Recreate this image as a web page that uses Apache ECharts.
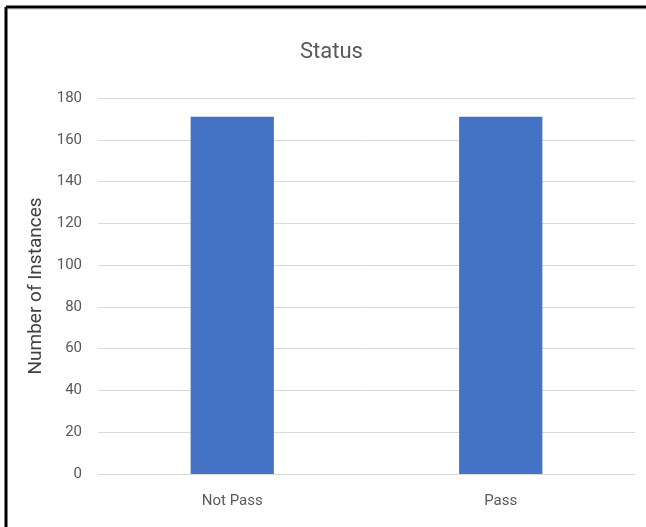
<!DOCTYPE html>
<html>
<head>
<meta charset="utf-8">
<script src="https://cdn.jsdelivr.net/npm/echarts@6/dist/echarts.min.js"></script>
<style>
  html, body { margin: 0; padding: 0; background: #fff; }
  #chart { width: 646px; height: 527px; }
</style>
</head>
<body>
<div id="chart"></div>
<script>
const categories = ['Not Pass', 'Pass'];
const counts = [171, 171];
const yTicks = [0, 20, 40, 60, 80, 100, 120, 140, 160, 180];

const font = '"Liberation Sans Narrow", "Roboto", sans-serif';
const chart = echarts.init(document.getElementById('chart'));

const option = {
  backgroundColor: '#ffffff',
  animation: false,
  title: {
    text: 'Status',
    left: 295,
    top: 36,
    textStyle: { fontFamily: font, fontSize: 22, fontWeight: 'normal', color: '#595959' }
  },
  grid: { left: 98, right: 11, top: 98, bottom: 53 },
  graphic: [
    { type: 'line', shape: { x1: 6, y1: 7, x2: 6, y2: 527 }, style: { stroke: '#000', lineWidth: 3 } },
    { type: 'line', shape: { x1: 6, y1: 7, x2: 646, y2: 7 }, style: { stroke: '#000', lineWidth: 3 } },
    { type: 'line', shape: { x1: 8, y1: 9.5, x2: 646, y2: 9.5 }, style: { stroke: '#e0e0e0', lineWidth: 1 } }
  ],
  xAxis: {
    type: 'category',
    data: categories,
    axisLine: { show: true, lineStyle: { color: '#d9d9d9', width: 1 } },
    axisTick: { show: false },
    axisLabel: { fontFamily: font, fontSize: 15, color: '#595959', margin: 20 }
  },
  yAxis: {
    type: 'value',
    min: yTicks[0],
    max: yTicks[yTicks.length - 1],
    interval: 20,
    name: 'Number of Instances',
    nameLocation: 'middle',
    nameGap: 45,
    nameTextStyle: { fontFamily: font, fontSize: 19, color: '#404040' },
    axisLine: { show: false },
    axisTick: { show: false },
    axisLabel: { fontFamily: font, fontSize: 15, color: '#595959', margin: 16 },
    splitLine: { lineStyle: { color: '#d9d9d9', width: 1 } }
  },
  series: [
    {
      name: 'Status',
      type: 'bar',
      data: counts,
      barWidth: '31%',
      itemStyle: { color: '#4472c4' }
    }
  ]
};

option && chart.setOption(option);
</script>
</body>
</html>
